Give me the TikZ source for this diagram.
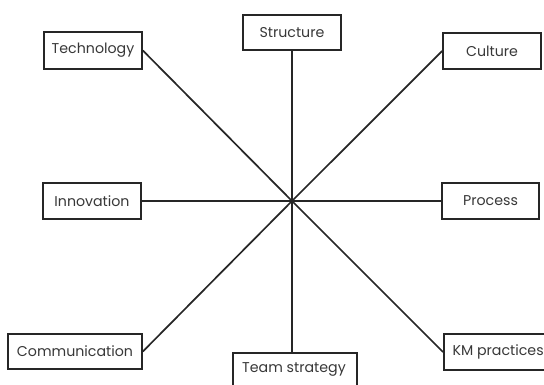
\documentclass[tikz,border=0pt]{standalone}
\usepackage{fontspec}
\setmainfont{Poppins}
\begin{document}
\begin{tikzpicture}[x=1pt,y=-1pt,
  lbl/.style={font=\fontsize{14.2}{16}\selectfont, text=black!78},
  box/.style={draw=black!85, line width=1.7pt, fill=white, inner sep=0pt, lbl},
  spoke/.style={draw=black!85, line width=1.7pt}]
\useasboundingbox (0,0) rectangle (544,384);
\coordinate (c) at (292,201);
% boxes, placed by corners
\node[box, minimum width=98pt, minimum height=37pt] (tech) at (93,50.5) {Technology};
\node[box, minimum width=98pt, minimum height=35pt] (struct) at (292,32.5) {Structure};
\node[box, minimum width=98pt, minimum height=36pt] (cult) at (492,51) {Culture};
\node[box, minimum width=98pt, minimum height=36pt] (innov) at (92,201) {Innovation};
\node[box, minimum width=97pt, minimum height=36pt] (proc) at (490.5,201) {Process};
\node[box, minimum width=134pt, minimum height=35pt] (comm) at (75,351.5) {Communication};
\node[box, minimum width=124pt, minimum height=38pt, anchor=north] (team) at (295,352) {};
\node[lbl] (teamtxt) at (294,369) {Team strategy};
\node[box, minimum width=104pt, minimum height=36pt, anchor=west] (km) at (443,352) {};
\node[lbl, anchor=west] (kmtxt) at (449,352) {KM practices};
% spokes meeting at the hub
\draw[spoke] (tech.east) -- (c);
\draw[spoke] (struct.south) -- (c);
\draw[spoke] (cult.west) -- (c);
\draw[spoke] (innov.east) -- (c);
\draw[spoke] (proc.west) -- (c);
\draw[spoke] (comm.east) -- (c);
\draw[spoke] (team.north -| c) -- (c);
\draw[spoke] (km.west) -- (c);
\end{tikzpicture}
\end{document}
